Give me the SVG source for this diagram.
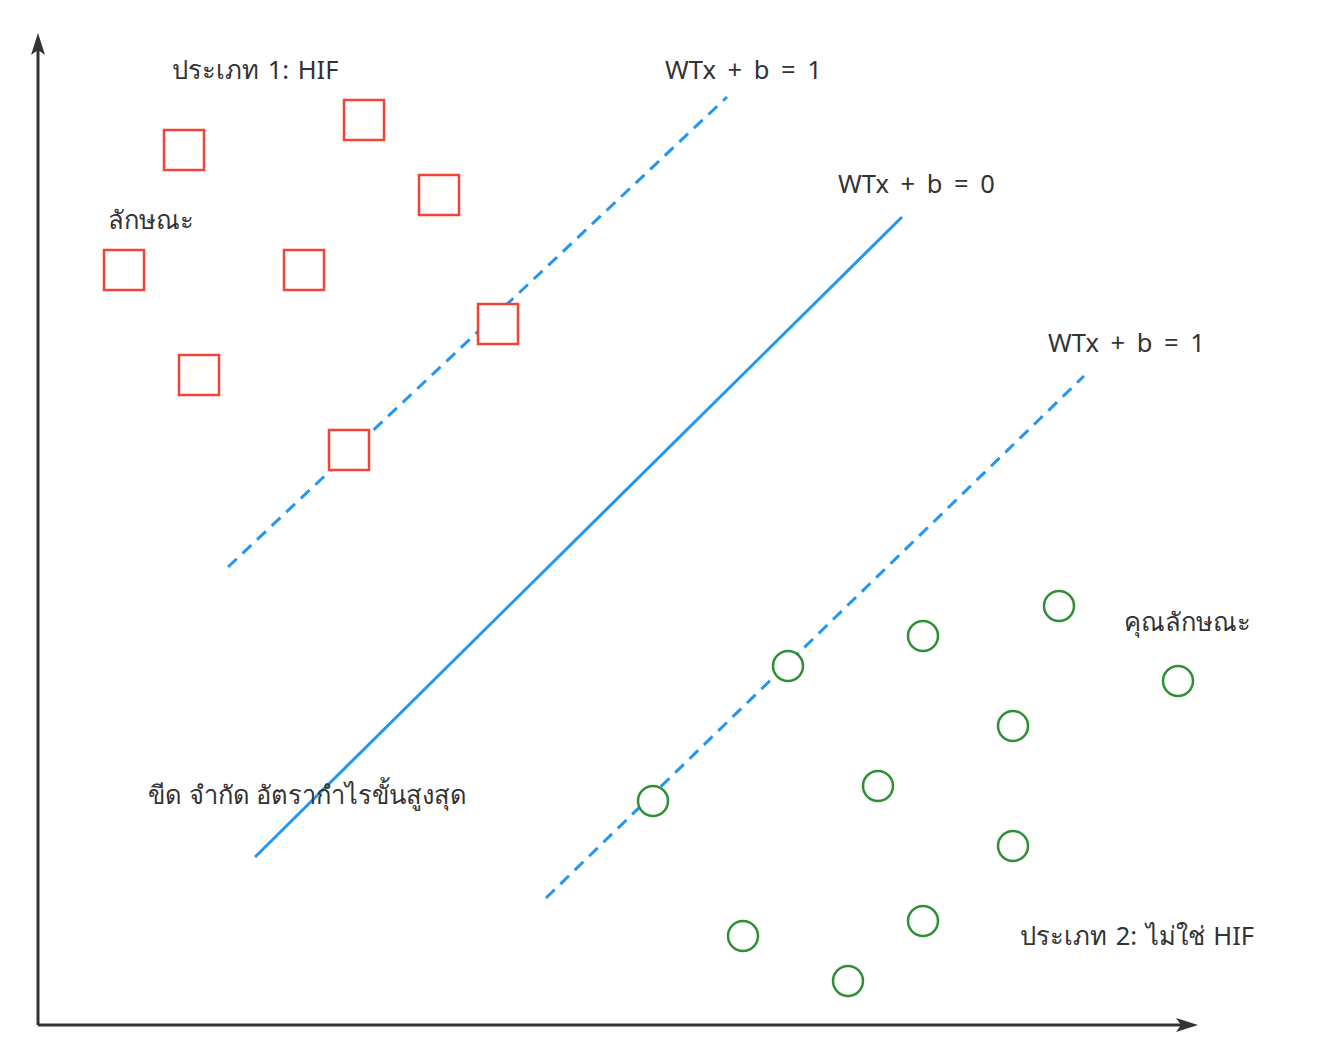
<svg xmlns="http://www.w3.org/2000/svg" width="1323" height="1063" viewBox="0 0 1323 1063">
<style>
.sq{fill:#fff;stroke:#f44336;stroke-width:2.5}
.ci{fill:#fff;stroke:#2f8f34;stroke-width:2.5}
.t{font-family:"Noto Sans","Open Sans","DejaVu Sans",sans-serif;font-size:25.5px;fill:#333}
.eq{word-spacing:5px}
.ax{stroke:#333;stroke-width:3;fill:none}
.hp{stroke:#2196f3;stroke-width:3;fill:none}
.dash{stroke-dasharray:12 8}
</style>
<rect width="1323" height="1063" fill="#fff"/>
<g id="connectors">
<path class="ax" d="M38,1025 L38,45"/>
<polygon points="38,33 45,55 38,50 31,55" fill="#333"/>
<path class="ax" d="M38,1025 L1185,1025"/>
<polygon points="1198,1025 1176,1018 1181,1025 1176,1032" fill="#333"/>
<line class="hp dash" x1="228" y1="567" x2="727" y2="97"/>
<line class="hp" x1="255" y1="857" x2="902" y2="217"/>
<line class="hp dash" x1="546" y1="898" x2="1084" y2="376"/>
</g>
<g id="class1">
<rect id="s1" class="sq" x="164" y="130" width="40" height="40"/>
<rect id="s2" class="sq" x="344" y="100" width="40" height="40"/>
<rect id="s3" class="sq" x="419" y="175" width="40" height="40"/>
<rect id="s4" class="sq" x="104" y="250" width="40" height="40"/>
<rect id="s5" class="sq" x="284" y="250" width="40" height="40"/>
<rect id="s6" class="sq" x="478" y="304" width="40" height="40"/>
<rect id="s7" class="sq" x="179" y="355" width="40" height="40"/>
<rect id="s8" class="sq" x="329" y="430" width="40" height="40"/>
</g>
<g id="class2">
<circle id="c1" class="ci" cx="1059" cy="606" r="15"/>
<circle id="c2" class="ci" cx="923" cy="636" r="15"/>
<circle id="c3" class="ci" cx="788" cy="666" r="15"/>
<circle id="c4" class="ci" cx="1178" cy="681" r="15"/>
<circle id="c5" class="ci" cx="1013" cy="726" r="15"/>
<circle id="c6" class="ci" cx="878" cy="786" r="15"/>
<circle id="c7" class="ci" cx="1013" cy="846" r="15"/>
<circle id="c8" class="ci" cx="653" cy="801" r="15"/>
<circle id="c9" class="ci" cx="923" cy="921" r="15"/>
<circle id="c10" class="ci" cx="743" cy="936" r="15"/>
<circle id="c11" class="ci" cx="848" cy="981" r="15"/>
</g>
<g id="labels">
<text id="l1" class="t" x="172" y="79" word-spacing="2">ประเภท 1: HIF</text>
<text id="l2" class="t eq" x="665" y="79">WTx + b = 1</text>
<text id="l3" class="t eq" x="838" y="193">WTx + b = 0</text>
<text id="l4" class="t eq" x="1048" y="352">WTx + b = 1</text>
<text id="l5" class="t" x="108" y="229">ลักษณะ</text>
<text id="l6" class="t" x="148" y="804">ขีด จำกัด อัตรากำไรขั้นสูงสุด</text>
<text id="l7" class="t" x="1124" y="631">คุณลักษณะ</text>
<text id="l8" class="t" x="1020" y="945" word-spacing="2">ประเภท 2: ไม่ใช่ HIF</text>
</g>
</svg>
